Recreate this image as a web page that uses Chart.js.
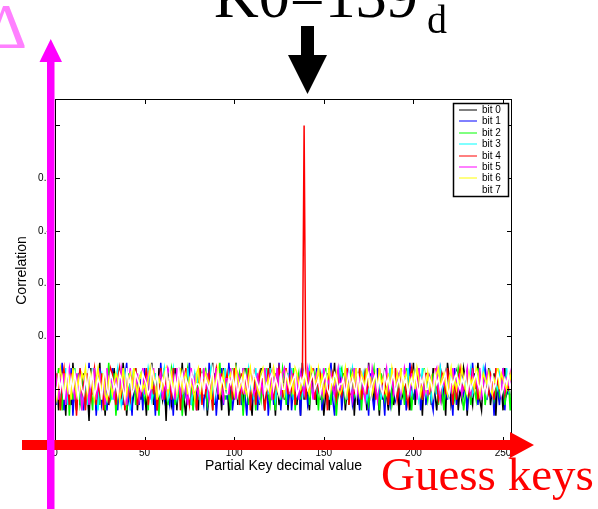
<!DOCTYPE html>
<html>
<head>
<meta charset="utf-8">
<title>Partial key correlation</title>
<script src="https://cdn.jsdelivr.net/npm/chart.js@4.4.1/dist/chart.umd.min.js"></script>
<style>
  body { margin: 0; background: #fff; }
  canvas { display: block; }
</style>
</head>
<body>
<canvas id="chart1" width="598" height="509"></canvas>
<script>
// CORRELATION OF EACH BIT FOR EVERY PARTIAL KEY GUESS (0..255)
// values, in hundredths of correlation

let keys = Array.from({length: 256}, (_, i) => i);

let bit0 = [
	9,12,6,14,8,11,5,13,10,7,15,9,6,12,11,8,
	13,7,10,4,14,9,12,6,11,15,8,10,5,13,7,12,
	10,14,6,9,12,8,15,11,5,10,13,7,9,14,6,11,
	8,12,10,5,13,9,15,7,11,6,14,10,8,12,4,13,
	11,7,9,14,6,12,10,15,8,5,11,13,9,7,12,10,
	6,14,8,11,13,5,10,9,15,7,12,8,11,6,14,9,
	12,5,10,13,8,15,7,11,9,6,14,10,12,8,5,13,
	9,11,7,14,10,6,12,8,15,9,11,5,13,7,10,12,
	8,14,6,11,9,13,10,7,12,5,15,8,11,9,6,13,
	10,12,7,14,8,11,5,9,13,6,12,10,15,7,9,11,
	8,13,6,10,12,9,14,5,11,7,13,8,10,12,6,15,
	9,11,7,13,10,5,12,8,14,9,6,11,13,7,10,12,
	5,14,9,11,8,13,6,10,15,7,12,9,11,5,13,8,
	10,12,7,14,9,6,11,13,8,10,5,15,12,7,9,11,
	13,6,10,8,14,12,5,11,9,7,13,10,15,8,6,12,
	11,9,14,7,10,13,5,12,8,11,6,14,9,10,12,7
];
let bit1 = [
	11,7,13,9,15,6,10,12,8,14,5,11,9,13,7,10,
	6,12,9,15,8,11,13,5,10,14,7,9,12,6,11,8,
	14,9,11,6,13,10,7,12,15,8,10,5,13,9,11,7,
	12,6,14,10,8,13,9,11,5,12,7,15,10,8,13,9,
	7,11,5,13,10,14,8,6,12,9,11,15,7,10,13,6,
	10,13,9,7,12,6,15,11,8,13,5,10,9,14,7,12,
	8,15,11,6,9,13,10,12,7,14,9,5,11,13,8,10,
	13,6,12,9,11,8,14,5,10,12,7,13,9,15,6,11,
	9,12,7,15,6,10,13,8,11,5,14,10,12,7,9,13,
	11,8,14,10,12,6,9,13,7,11,15,8,5,12,10,14,
	6,10,12,8,13,11,7,9,14,10,6,12,9,13,11,5,
	13,9,6,11,14,8,12,10,5,13,9,7,14,11,8,10,
	10,7,13,12,6,9,15,11,8,12,10,14,6,9,13,7,
	12,11,8,6,13,10,9,14,12,7,11,8,13,10,5,14,
	7,13,10,14,9,11,6,12,8,15,10,13,7,11,9,12,
	14,8,11,9,12,5,13,10,7,11,14,6,12,9,13,10
];
let bit2 = [
	7,10,14,11,6,12,9,13,5,11,8,14,10,12,7,9,
	12,8,11,13,10,6,14,9,12,7,13,10,6,11,15,8,
	9,13,5,10,14,11,8,12,6,13,9,11,14,7,10,12,
	13,10,8,12,6,14,11,9,13,10,5,12,9,14,11,7,
	10,14,12,7,11,9,13,5,10,12,14,8,11,6,9,13,
	8,11,13,10,14,7,9,12,6,11,13,10,15,9,12,8,
	11,9,6,14,10,12,8,13,11,5,10,14,7,12,9,11,
	6,12,10,8,13,11,14,9,7,12,10,6,13,11,8,14,
	12,7,13,10,9,14,6,11,13,8,12,9,10,14,7,11,
	9,13,11,6,12,8,10,14,9,11,7,13,12,5,10,13,
	14,10,8,12,7,13,11,9,12,10,14,6,11,13,9,7,
	10,12,14,9,11,6,13,10,8,12,11,14,7,9,12,10,
	13,8,11,7,14,10,12,6,11,13,9,10,12,8,14,11,
	8,11,9,13,10,12,7,14,10,6,13,11,9,12,10,8,
	11,14,12,10,6,9,13,11,7,12,10,8,14,11,9,13,
	7,10,13,11,12,8,10,14,9,11,13,7,10,12,6,11
];
let bit3 = [
	12,9,11,8,13,10,14,7,12,9,11,13,8,10,14,6,
	10,13,7,12,9,14,11,10,6,12,13,9,11,8,10,13,
	8,11,12,14,10,7,9,13,11,12,6,10,14,11,8,12,
	13,10,9,11,14,12,8,10,13,7,11,9,12,14,10,8,
	9,12,14,10,8,11,13,9,12,10,14,11,7,10,13,11,
	12,8,10,13,11,9,12,14,10,8,11,13,10,12,9,14,
	10,13,11,9,12,14,10,7,11,13,9,12,14,10,11,8,
	14,10,8,12,10,11,13,9,14,11,10,8,12,13,9,11,
	11,9,13,10,14,8,11,12,10,13,9,11,8,12,14,10,
	9,12,10,14,11,13,9,10,12,8,13,11,10,9,12,14,
	12,10,11,8,13,10,14,12,9,11,12,10,13,11,8,10,
	10,13,12,11,9,12,8,11,13,10,9,14,11,10,12,13,
	13,9,10,12,11,14,10,9,12,11,13,8,10,14,11,9,
	11,12,8,10,13,9,12,14,10,12,11,10,9,13,12,10,
	9,11,13,12,10,11,9,12,14,9,10,13,12,10,11,14,
	12,10,11,13,9,12,11,10,13,11,12,9,14,10,12,11
];
let bit4 = [
	8,13,10,6,12,14,9,11,7,13,10,12,5,11,14,9,
	11,6,13,10,8,12,14,7,11,9,13,6,12,10,8,14,
	13,10,7,12,14,9,11,6,13,10,8,12,11,14,7,10,
	9,12,11,14,7,10,13,9,12,6,10,14,11,8,13,12,
	12,8,14,9,11,13,6,12,10,14,9,7,13,11,10,6,
	10,14,7,12,9,11,13,10,6,12,14,11,8,13,9,11,
	13,9,12,8,14,10,11,7,13,9,12,10,14,6,11,13,
	7,11,13,10,12,6,9,14,11,13,8,12,10,14,12,9,
	11,14,9,12,10,13,7,11,12,9,10,60,8,12,13,10,
	14,8,12,10,13,11,9,12,6,14,11,13,10,8,12,11,
	9,12,10,14,7,11,13,9,12,10,14,8,11,13,9,12,
	12,10,13,8,11,14,10,12,9,13,7,11,12,10,14,8,
	10,13,11,12,9,7,12,14,10,11,13,9,12,8,11,13,
	13,9,12,10,14,11,8,10,13,12,9,14,10,11,7,12,
	8,12,14,11,10,13,12,9,11,14,10,12,8,13,11,10,
	11,10,9,13,12,8,14,11,10,12,13,9,11,10,12,14
];
let bit5 = [
	14,11,8,12,10,13,7,12,14,9,11,8,13,10,12,6,
	9,13,11,7,12,10,14,8,11,13,9,12,7,14,10,12,
	11,8,13,10,9,14,12,10,7,11,14,9,12,10,13,8,
	10,14,9,12,13,8,11,14,10,9,12,13,8,11,10,14,
	13,10,12,8,14,11,9,12,13,10,7,11,14,9,12,10,
	9,12,11,14,10,13,8,10,12,11,14,9,13,10,8,12,
	12,9,14,10,11,8,13,12,10,14,9,12,10,13,11,9,
	10,13,8,12,9,14,11,10,13,8,12,11,14,10,9,13,
	14,10,12,9,13,11,10,12,8,13,11,9,12,14,10,11,
	8,12,13,11,10,9,14,10,12,11,13,10,9,12,14,10,
	12,11,9,13,12,10,8,14,11,9,12,13,10,8,12,14,
	10,14,12,10,8,13,11,9,12,14,10,11,13,9,10,12,
	13,9,11,14,12,10,9,13,10,12,8,14,11,12,9,10,
	9,12,10,11,13,14,10,8,12,11,13,9,12,10,14,11,
	12,10,13,9,11,12,14,10,9,13,11,12,10,14,8,12,
	10,13,11,12,9,10,12,13,11,9,14,10,12,11,13,9
];
let bit6 = [
	10,8,12,14,11,9,13,10,12,8,14,11,9,12,10,13,
	12,14,9,11,13,10,8,12,14,11,10,13,9,8,12,11,
	9,11,13,12,8,10,14,11,9,12,13,10,14,11,9,12,
	13,10,11,9,12,14,10,13,11,8,12,11,10,13,14,9,
	11,13,10,12,9,11,14,10,12,13,9,12,11,10,8,13,
	14,9,12,10,13,12,11,8,13,10,12,14,9,11,13,10,
	10,12,13,11,9,14,12,10,11,13,10,9,12,14,10,12,
	12,10,9,13,14,11,10,12,9,11,14,12,10,9,13,11,
	9,13,11,10,12,9,14,13,11,10,12,11,13,10,9,14,
	13,11,12,14,10,13,9,11,12,14,10,12,11,13,10,9,
	10,12,14,9,11,12,13,10,14,11,9,13,12,10,14,11,
	12,9,11,13,10,14,11,12,10,9,13,10,14,12,11,13,
	11,14,10,12,13,9,12,11,13,10,14,12,9,11,13,10,
	13,10,12,9,11,13,14,10,12,13,11,9,12,14,10,12,
	10,12,11,14,12,10,9,13,11,12,10,14,13,9,11,13,
	12,11,13,10,9,12,11,14,10,13,12,11,10,13,12,14
];
let bit7 = [
	11,9,13,10,12,8,11,14,9,12,10,13,11,8,12,10,
	9,12,10,14,11,13,9,10,12,11,8,12,14,10,9,13,
	12,10,11,9,13,12,10,8,14,11,12,9,10,13,12,11,
	10,13,12,11,9,10,14,12,11,13,9,10,12,11,14,10,
	13,11,9,12,10,14,11,13,10,12,11,9,13,12,10,11,
	11,10,13,9,12,11,10,12,14,9,11,13,10,12,11,9,
	9,12,11,13,10,12,9,11,12,10,13,11,9,12,10,13,
	12,11,10,12,13,9,11,10,12,13,10,12,11,9,13,10,
	10,13,12,10,11,12,13,9,10,12,11,13,12,10,11,12,
	13,10,11,12,9,11,12,13,10,9,12,11,13,12,10,11,
	11,12,9,11,13,10,12,11,9,13,10,12,11,10,12,13,
	9,11,12,13,10,12,10,9,13,11,12,10,12,13,9,11,
	12,10,13,11,12,9,11,12,10,13,11,9,12,11,13,10,
	10,12,11,9,13,11,12,10,11,12,13,10,9,12,11,12,
	13,11,10,12,11,13,9,12,10,11,12,13,11,10,12,9,
	11,9,12,10,13,10,11,13,12,9,10,12,11,13,10,12
];

let bitNames = ["bit 0", "bit 1", "bit 2", "bit 3", "bit 4", "bit 5", "bit 6", "bit 7"];
let bitSeries = [bit0, bit1, bit2, bit3, bit4, bit5, bit6, bit7];
let bitColors = ["#000000", "#0000ff", "#00ff00", "#00ffff", "#ff0000", "#ff00ff", "#ffff00", "#ffffff"];

let xTicks = [0, 50, 100, 150, 200, 250];
let yTicks = [0, 0.1, 0.2, 0.3, 0.4, 0.5, 0.6];
let yTickLabels = ["0", "", "0.2", "0.3", "0.4", "0.5", ""];

let sans = "'Liberation Sans', Arial, Helvetica, sans-serif";
let serif = "'Liberation Serif', 'Times New Roman', serif";


// matlab style box, inner ticks, legend and the hand drawn notes on top
let overlay = {
	id: 'overlay',
	afterDraw: function(chart){
		let c = chart.ctx;
		let a = chart.chartArea;
		let xs = chart.scales.x;
		let ys = chart.scales.y;

		c.save();
		c.strokeStyle = '#000';
		c.lineWidth = 1;
		c.strokeRect(a.left + 0.5, a.top + 0.5, a.right - a.left - 1, a.bottom - a.top - 1);
		c.beginPath();
		xs.ticks.forEach(function(t){
			let px = Math.round(xs.getPixelForValue(t.value)) + 0.5;
			c.moveTo(px, a.bottom); c.lineTo(px, a.bottom - 5);
			c.moveTo(px, a.top); c.lineTo(px, a.top + 5);
		});
		ys.ticks.forEach(function(t){
			let py = Math.round(ys.getPixelForValue(t.value)) + 0.5;
			c.moveTo(a.left, py); c.lineTo(a.left + 5, py);
			c.moveTo(a.right, py); c.lineTo(a.right - 5, py);
		});
		c.stroke();

		// legend box
		let lx = 453, ly = 103, lw = 55, lh = 93;
		c.fillStyle = '#fff';
		c.fillRect(lx, ly, lw, lh);
		c.lineWidth = 1.5;
		c.strokeRect(lx + 0.5, ly + 0.5, lw, lh);
		c.lineWidth = 1;
		c.font = '10px ' + sans;
		c.textBaseline = 'middle';
		c.textAlign = 'left';
		chart.data.datasets.forEach(function(ds, i){
			let ry = Math.round(ly + 7 + i * 11.4);
			c.strokeStyle = ds.borderColor;
			c.beginPath();
			c.moveTo(lx + 6, ry); c.lineTo(lx + 24, ry);
			c.stroke();
			c.fillStyle = '#000';
			c.fillText(ds.label, lx + 29, ry + 0.5);
		});

		// red arrow (guess keys)
		c.fillStyle = '#ff0000';
		c.beginPath();
		c.moveTo(22, 440); c.lineTo(510, 440); c.lineTo(510, 432);
		c.lineTo(534, 445); c.lineTo(510, 458); c.lineTo(510, 450);
		c.lineTo(22, 450); c.closePath();
		c.fill();
		c.font = '47px ' + serif;
		c.textBaseline = 'alphabetic';
		c.fillText('Guess keys', 381, 490);

		// magenta arrow (delta)
		c.fillStyle = '#ff00ff';
		c.beginPath();
		c.moveTo(47, 509); c.lineTo(47, 62); c.lineTo(39.5, 62);
		c.lineTo(50.75, 39); c.lineTo(62, 62); c.lineTo(54.5, 62);
		c.lineTo(54.5, 509); c.closePath();
		c.fill();
		c.fillStyle = '#ff80ff';
		c.font = '64px ' + serif;
		c.textAlign = 'right';
		c.fillText('\u0394', 27, 48);

		// black arrow on the right key
		c.fillStyle = '#000';
		c.beginPath();
		c.moveTo(301, 26); c.lineTo(314, 26); c.lineTo(314, 55);
		c.lineTo(327, 55); c.lineTo(307.5, 94); c.lineTo(288, 55);
		c.lineTo(301, 55); c.closePath();
		c.fill();
		c.textAlign = 'left';
		c.font = '62px ' + serif;
		c.fillText('K0=139', 214, 17);
		c.font = '40px ' + serif;
		c.fillText('d', 427, 33);
		c.restore();
	}
};


let ctx1 = document.getElementById('chart1');

let myChart1 = new Chart(ctx1, {
	type: 'line',
	data: {
		labels: keys,
		datasets: bitNames.map(function(name, i){
			return {
				label: name,
				data: bitSeries[i].map(function(v){ return v / 100; }),
				borderColor: bitColors[i],
				backgroundColor: bitColors[i],
				borderWidth: 1.5,
				pointRadius: 0,
				tension: 0,
				order: 7 - i
			};
		})
	},
	options: {
		responsive: false,
		animation: false,
		events: [],
		layout: { padding: { top: 99, right: 86, bottom: 0, left: 0 } },
		plugins: {
			legend: { display: false },
			tooltip: { enabled: false }
		},
		scales: {
			x: {
				type: 'linear',
				min: 0,
				max: 255,
				afterFit: function(s){ s.height = 67; },
				afterBuildTicks: function(s){ s.ticks = xTicks.map(function(v){ return {value: v}; }); },
				grid: { display: false, drawTicks: false },
				border: { display: false },
				ticks: { padding: 5, maxRotation: 0, autoSkip: false, color: '#000', font: { size: 10, family: sans } },
				title: {
					display: true,
					text: 'Partial Key decimal value',
					color: '#000',
					font: { size: 14, family: sans },
					padding: { top: 0, bottom: 34 }
				}
			},
			y: {
				min: 0,
				max: 0.65,
				afterFit: function(s){ s.width = 55; },
				afterBuildTicks: function(s){ s.ticks = yTicks.map(function(v){ return {value: v}; }); },
				grid: { display: false, drawTicks: false },
				border: { display: false },
				ticks: {
					padding: 3,
					color: '#000',
					font: { size: 10, family: sans },
					callback: function(v, i){ return yTickLabels[i]; }
				},
				title: {
					display: true,
					text: 'Correlation',
					color: '#000',
					font: { size: 14, family: sans },
					padding: { top: 14, bottom: 0 }
				}
			}
		}
	},
	plugins: [overlay]
});
</script>
</body>
</html>
